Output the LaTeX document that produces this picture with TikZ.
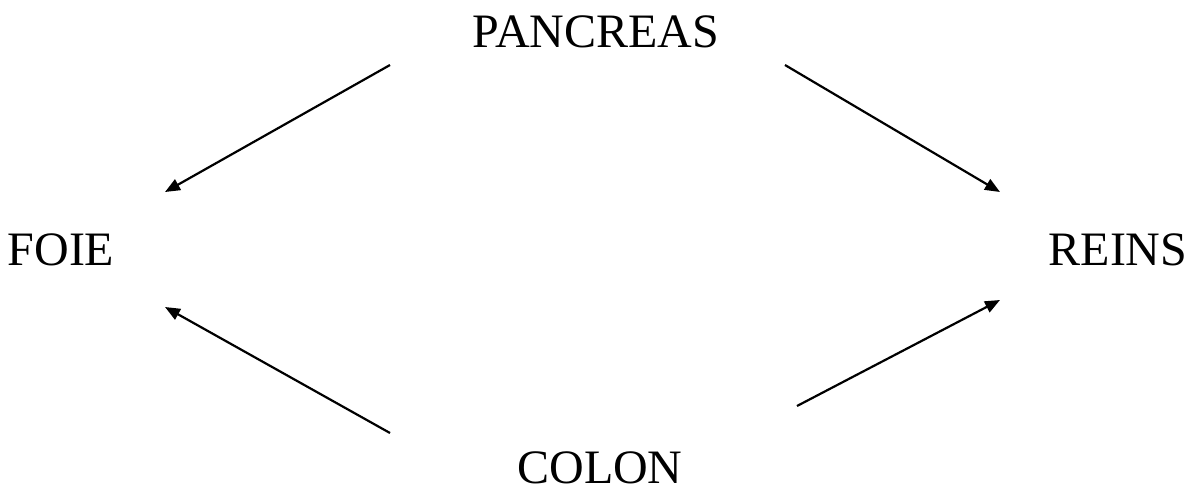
\documentclass[tikz,border=0pt]{standalone}
\usepackage{fontspec}
\setmainfont{Liberation Serif}
\usetikzlibrary{arrows.meta}

\begin{document}
\begin{tikzpicture}[x=0.5pt,y=-0.5pt,
    organ/.style={font=\fontsize{24}{28}\selectfont, inner sep=0pt},
    flux/.style={line width=1.1pt, -{Triangle[length=7.5pt,width=6pt]}}]
    % Frame of the page
    \useasboundingbox (0,0) rectangle (1196,489);
    % Organs
    \node[organ] (pancreas) at (596,32) {PANCREAS};
    \node[organ] (foie) at (61,250) {FOIE};
    \node[organ] (reins) at (1118,250) {REINS};
    \node[organ] (colon) at (600,468) {COLON};
    % Ends of the arrows
    \coordinate (pf) at (390,65);
    \coordinate (pr) at (785,65);
    \coordinate (cf) at (390,433);
    \coordinate (cr) at (797,406);
    \coordinate (fh) at (165,192);
    \coordinate (fb) at (165,307);
    \coordinate (rh) at (1000,192);
    \coordinate (rb) at (1000,300);
    % Arrows
    \draw[flux] (pf) -- (fh);
    \draw[flux] (pr) -- (rh);
    \draw[flux] (cf) -- (fb);
    \draw[flux] (cr) -- (rb);
\end{tikzpicture}
\end{document}
